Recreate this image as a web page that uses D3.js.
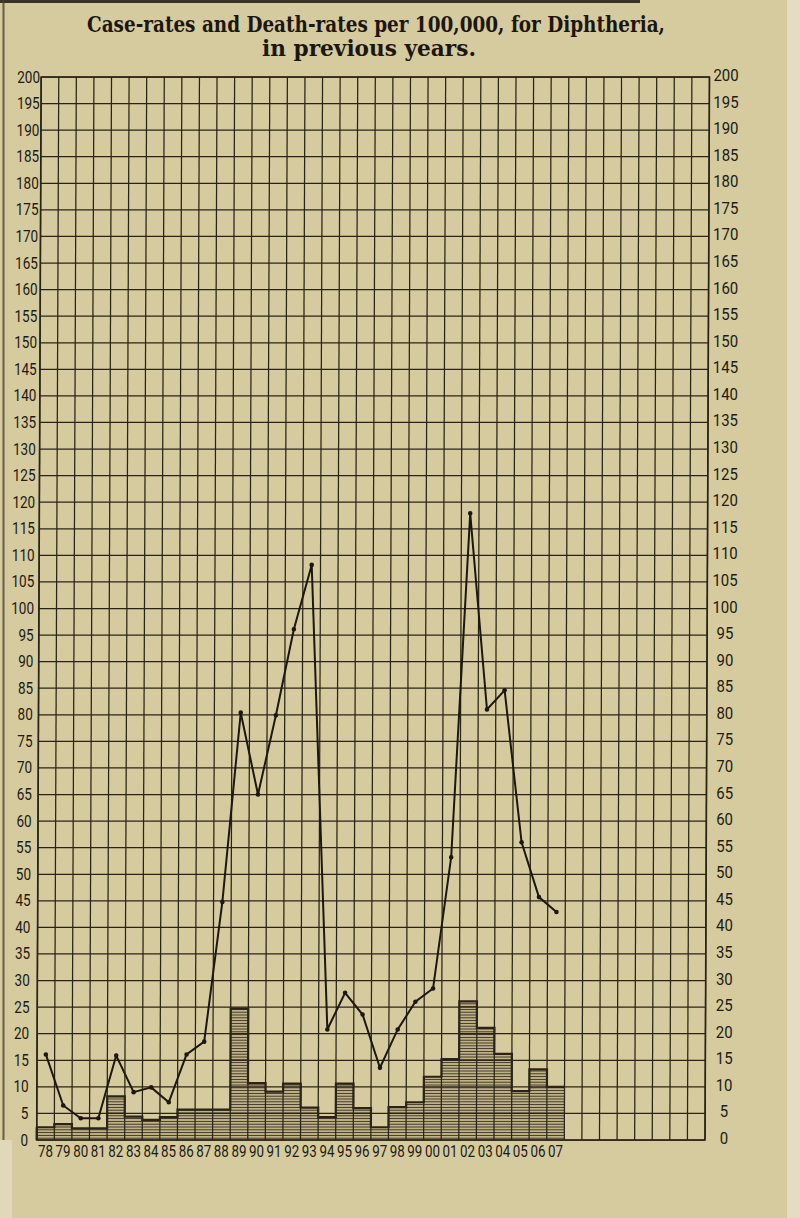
<!DOCTYPE html>
<html>
<head>
<meta charset="utf-8">
<script src="https://cdn.jsdelivr.net/npm/d3@7"></script>
<style>
  html, body { margin: 0; padding: 0; background: #d7ca9d; }
  svg { display: block; }
</style>
</head>
<body>
<svg id="chart" width="800" height="1218"></svg>
<script>
// ---------- DATA ----------
const years = ["78","79","80","81","82","83","84","85","86","87","88","89","90","91","92","93","94","95","96","97","98","99","00","01","02","03","04","05","06","07"];
const emptyColumns = ["e1","e2","e3","e4","e5","e6","e7","e8"];
// case-rates per 100,000 (line)
const caseRates = [16.1, 6.5, 4.1, 4.1, 15.9, 9.0, 9.9, 7.1, 16.1, 18.5, 44.8, 80.4, 65.0, 79.9, 96.1, 108.2, 20.8, 27.7, 23.6, 13.6, 20.8, 26.0, 28.5, 53.2, 117.9, 81.0, 84.6, 56.0, 45.7, 42.9];
// death-rates per 100,000 (hatched bars)
const deathRates = [2.4, 3.0, 2.2, 2.2, 8.2, 4.4, 3.8, 4.3, 5.7, 5.7, 5.7, 24.7, 10.7, 9.1, 10.6, 6.1, 4.3, 10.6, 6.0, 2.4, 6.2, 7.1, 11.9, 15.2, 26.1, 21.1, 16.2, 9.2, 13.3, 10.0];
const yTicks = [0,5,10,15,20,25,30,35,40,45,50,55,60,65,70,75,80,85,90,95,100,105,110,115,120,125,130,135,140,145,150,155,160,165,170,175,180,185,190,195,200];
const titleLines = ["Case-rates and Death-rates per 100,000, for Diphtheria,", "in previous years."];

// ---------- SETUP ----------
const svg = d3.select("#chart");
const ink = "#2a2416";
const paper = "#d6ca9f";

const x = d3.scaleBand().domain(years.concat(emptyColumns)).range([36.7, 705]).padding(0);
const y = d3.scaleLinear().domain([0, 200]).range([1140, 77]);
const bw = x.bandwidth();

const defs = svg.append("defs");
const pat = defs.append("pattern").attr("id", "hatch")
  .attr("patternUnits", "userSpaceOnUse").attr("width", 6).attr("height", 2.8);
pat.append("rect").attr("width", 6).attr("height", 2.8).attr("fill", "#c2b486").attr("opacity", 0.55);
pat.append("line").attr("x1", 0).attr("x2", 6).attr("y1", 1.4).attr("y2", 1.4)
  .attr("stroke", "#3e3524").attr("stroke-width", 1.1);

// background & scan artefacts
svg.append("rect").attr("width", 800).attr("height", 1218).attr("fill", paper);
svg.append("rect").attr("x", 787).attr("y", 0).attr("width", 13).attr("height", 1218).attr("fill", "#e5ddc2");
svg.append("rect").attr("x", 0).attr("y", 0).attr("width", 640).attr("height", 3).attr("fill", "#3a3326");
svg.append("rect").attr("x", 2.5).attr("y", 0).attr("width", 2).attr("height", 1140).attr("fill", "#4a4230").attr("opacity", 0.8);
svg.append("rect").attr("x", 0).attr("y", 1140).attr("width", 12).attr("height", 78).attr("fill", "#e3dbbf").attr("opacity", 0.8);

// title
const title = svg.append("g").attr("fill", "#1c170e")
  .attr("font-family", "'DejaVu Serif', 'Liberation Serif', serif").attr("font-weight", "bold");
title.append("text").attr("x", 87).attr("y", 32).attr("font-size", 22)
  .attr("textLength", 578).attr("lengthAdjust", "spacingAndGlyphs").text(titleLines[0]);
title.append("text").attr("x", 262).attr("y", 56).attr("font-size", 22)
  .attr("textLength", 214).attr("lengthAdjust", "spacingAndGlyphs").text(titleLines[1]);

// plot group with slight scan skew
const k = -0.0042;
const g = svg.append("g").attr("transform", `matrix(1,0,${k},1,${-k * y(0)},0)`);

// bars (hatched)
g.append("g").selectAll("rect").data(years).join("rect")
  .attr("x", d => x(d)).attr("width", bw)
  .attr("y", (d, i) => y(deathRates[i])).attr("height", (d, i) => y(0) - y(deathRates[i]))
  .attr("fill", "url(#hatch)");

// grid
const grid = g.append("g").attr("stroke", ink).attr("stroke-width", 1.25).attr("fill", "none");
const allCols = x.domain();
const xEdges = allCols.map(c => x(c)).concat([x(allCols[allCols.length - 1]) + bw]);
grid.selectAll("line.v").data(xEdges).join("line").attr("class", "v")
  .attr("x1", d => d).attr("x2", d => d).attr("y1", y(200)).attr("y2", y(0));
grid.selectAll("line.h").data(yTicks).join("line").attr("class", "h")
  .attr("x1", x.range()[0]).attr("x2", x.range()[1]).attr("y1", d => y(d)).attr("y2", d => y(d));
grid.append("rect").attr("x", x.range()[0]).attr("y", y(200))
  .attr("width", x.range()[1] - x.range()[0]).attr("height", y(0) - y(200)).attr("stroke-width", 1.6);

// bar outline (step)
const stepPts = years.map((d, i) => [x(d), y(deathRates[i])]);
stepPts.push([x(years[years.length - 1]) + bw, y(deathRates[deathRates.length - 1])]);
const stepLine = d3.line().curve(d3.curveStepAfter);
g.append("path").attr("d", stepLine(stepPts))
  .attr("fill", "none").attr("stroke", ink).attr("stroke-width", 2.2);
g.append("line").attr("x1", x(years[0])).attr("x2", x(years[0])).attr("y1", y(0)).attr("y2", y(deathRates[0]))
  .attr("stroke", ink).attr("stroke-width", 2.2);

// case-rate line
const line = d3.line().x((d, i) => x(years[i]) + bw / 2).y(d => y(d));
g.append("path").datum(caseRates).attr("d", line)
  .attr("fill", "none").attr("stroke", "#1c180f").attr("stroke-width", 2).attr("stroke-linejoin", "miter");
g.append("g").selectAll("circle").data(caseRates).join("circle")
  .attr("cx", (d, i) => x(years[i]) + bw / 2).attr("cy", d => y(d)).attr("r", 2.3).attr("fill", "#1c180f");

// axis labels
const lab = svg.append("g").attr("fill", "#201b11").attr("font-family", "Roboto, 'DejaVu Sans', sans-serif");
lab.selectAll("text.l").data(yTicks).join("text").attr("class", "l")
  .attr("x", d => 28 + d * 0.06 - String(d).length * 7.6).attr("y", d => y(d) + 5.5)
  .attr("font-size", 16).attr("textLength", d => String(d).length * 7.6)
  .attr("lengthAdjust", "spacingAndGlyphs").text(d => d);
lab.selectAll("text.r").data(yTicks).join("text").attr("class", "r")
  .attr("x", d => 724 + d * 0.01 - String(d).length * 4.2).attr("y", d => y(d) + 4)
  .attr("font-size", 16).attr("textLength", d => String(d).length * 8.4)
  .attr("lengthAdjust", "spacingAndGlyphs").text(d => d);
lab.selectAll("text.yr").data(years).join("text").attr("class", "yr")
  .attr("x", d => x(d) + bw / 2 - 7.5).attr("y", 1157)
  .attr("font-size", 16).attr("textLength", 15).attr("lengthAdjust", "spacingAndGlyphs").text(d => d);
</script>
</body>
</html>
